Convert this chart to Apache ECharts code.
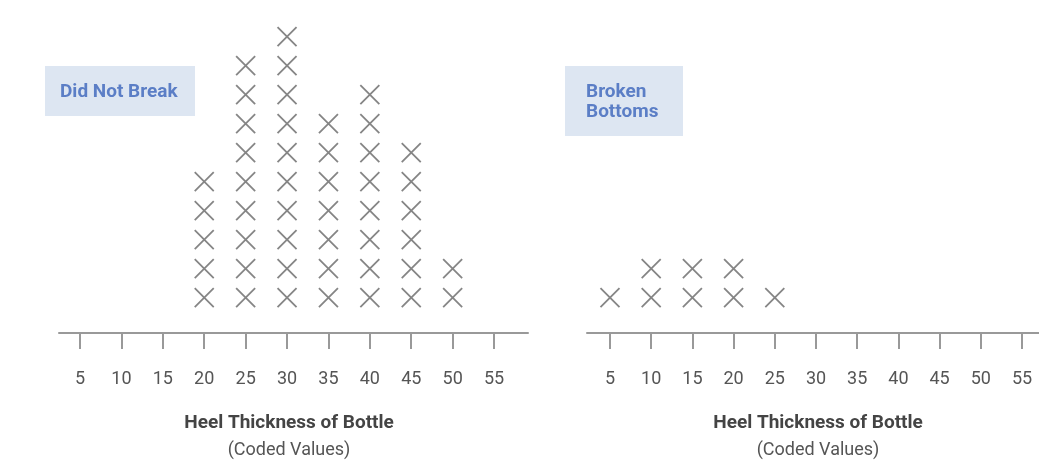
<!DOCTYPE html>
<html>
<head>
<meta charset="utf-8">
<title>Heel Thickness of Bottle</title>
<script src="https://cdn.jsdelivr.net/npm/echarts@6/dist/echarts.min.js"></script>
<style>
  html, body { margin: 0; padding: 0; background: #fff; }
  #main { width: 1039px; height: 472px; }
</style>
</head>
<body>
<div id="main"></div>
<script>
// heel thickness values (coded) and how many bottles had each one
var thickness = [5, 10, 15, 20, 25, 30, 35, 40, 45, 50, 55];
var notBrokenCounts = [0, 0, 0, 5, 9, 10, 7, 8, 6, 2, 0];
var brokenCounts = [1, 2, 2, 2, 1, 0, 0, 0, 0, 0, 0];
var tickValues = [5, 10, 15, 20, 25, 30, 35, 40, 45, 50, 55];

var panelNames = ['Did Not Break', 'Broken\nBottoms'];
var axisTitle = 'Heel Thickness of Bottle';
var axisSubtitle = '(Coded Values)';

// one X per bottle, stacked upward
function stackPoints(counts) {
    var pts = [];
    for (var i = 0; i < thickness.length; i++) {
        for (var k = 1; k <= counts[i]; k++) {
            pts.push([thickness[i], k]);
        }
    }
    return pts;
}

var font = 'Roboto, "Open Sans", sans-serif';
var crossSymbol = 'path://M0,0L20,20M20,0L0,20';

function makeXAxis(idx, min, max) {
    return {
        gridIndex: idx,
        type: 'value',
        min: min,
        max: max,
        splitLine: { show: false },
        axisLine: { onZero: false, lineStyle: { color: '#999', width: 2 } },
        axisTick: { customValues: tickValues, length: 16, lineStyle: { color: '#999', width: 2 } },
        axisLabel: { customValues: tickValues, margin: 37, color: '#555', fontSize: 18, fontFamily: font }
    };
}

function makeYAxis(idx) {
    return { gridIndex: idx, type: 'value', min: -0.217, max: 11, show: false };
}

function makeSeries(idx, counts) {
    return {
        type: 'scatter',
        xAxisIndex: idx,
        yAxisIndex: idx,
        symbol: crossSymbol,
        symbolSize: 19,
        itemStyle: { color: 'transparent', borderColor: '#666', borderWidth: 1.8 },
        silent: true,
        data: stackPoints(counts)
    };
}

var myChart = echarts.init(document.getElementById('main'));

var option = {
    animation: false,
    grid: [
        { left: 59, right: 511, top: 7.7, bottom: 139 },
        { left: 587, right: 0, top: 7.7, bottom: 139 }
    ],
    xAxis: [makeXAxis(0, 2.46, 59.1), makeXAxis(1, 2.21, 57.06)],
    yAxis: [makeYAxis(0), makeYAxis(1)],
    series: [makeSeries(0, notBrokenCounts), makeSeries(1, brokenCounts)],
    graphic: [
        { type: 'rect', left: 45, top: 66, shape: { width: 150, height: 50 }, style: { fill: '#dde6f2' } },
        { type: 'text', x: 60, y: 92, style: { text: panelNames[0], fill: '#5b7ec6', font: 'bold 19px ' + font, textVerticalAlign: 'middle' } },
        { type: 'rect', left: 565, top: 66, shape: { width: 118, height: 70 }, style: { fill: '#dde6f2' } },
        { type: 'text', x: 586, y: 82, style: { text: panelNames[1], fill: '#5b7ec6', font: 'bold 19px ' + font, lineHeight: 20 } },
        { type: 'text', x: 289, y: 423, style: { text: axisTitle, fill: '#444', font: 'bold 19px ' + font, textAlign: 'center', textVerticalAlign: 'middle' } },
        { type: 'text', x: 289, y: 450, style: { text: axisSubtitle, fill: '#555', font: '18px ' + font, textAlign: 'center', textVerticalAlign: 'middle' } },
        { type: 'text', x: 818, y: 423, style: { text: axisTitle, fill: '#444', font: 'bold 19px ' + font, textAlign: 'center', textVerticalAlign: 'middle' } },
        { type: 'text', x: 818, y: 450, style: { text: axisSubtitle, fill: '#555', font: '18px ' + font, textAlign: 'center', textVerticalAlign: 'middle' } }
    ]
};

myChart.setOption(option);
</script>
</body>
</html>
